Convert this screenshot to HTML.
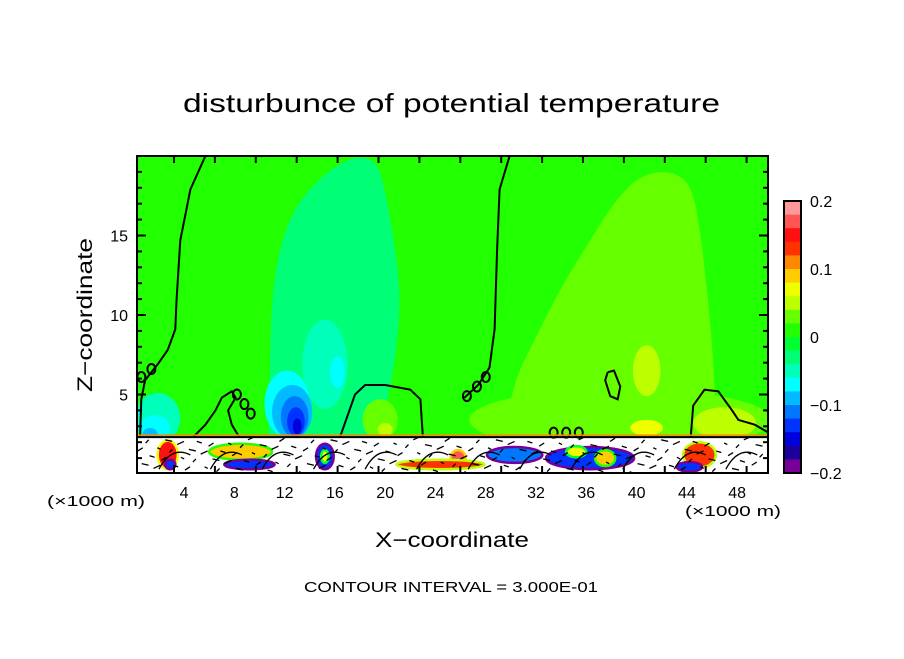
<!DOCTYPE html>
<html><head><meta charset="utf-8"><style>
body{margin:0;background:#fff;width:904px;height:654px;overflow:hidden}
svg text{font-family:"Liberation Sans",sans-serif;fill:#000}
</style></head><body>
<svg id="chart" width="904" height="654" xmlns="http://www.w3.org/2000/svg">
<text x="183" y="112" font-size="26" textLength="537" lengthAdjust="spacingAndGlyphs">disturbunce of potential temperature</text>
<defs><clipPath id="clip"><rect x="137" y="156" width="631" height="317"/></clipPath></defs>
<g id="plot" clip-path="url(#clip)"></g>
<rect x="137" y="156" width="631" height="317" fill="none" stroke="#000" stroke-width="2"/>
<g id="ticks"></g>
<g id="cbar"></g>
<text x="375" y="547" font-size="21" textLength="154" lengthAdjust="spacingAndGlyphs">X−coordinate</text>
<text transform="translate(92,392) rotate(-90)" font-size="21" textLength="154" lengthAdjust="spacingAndGlyphs">Z−coordinate</text>
<text x="47" y="506" font-size="15" textLength="98" lengthAdjust="spacingAndGlyphs">(×1000 m)</text>
<text x="685" y="516" font-size="15" textLength="96" lengthAdjust="spacingAndGlyphs">(×1000 m)</text>
<text x="304" y="592" font-size="15" textLength="294" lengthAdjust="spacingAndGlyphs">CONTOUR INTERVAL = 3.000E-01</text>
</svg>
<script>
const xTicks=[4,8,12,16,20,24,28,32,36,40,44,48];
const yTicks=[5,10,15];
const cbLabels=["0.2","0.1","0","−0.1","−0.2"];
const cbValues=[0.2,0.1,0,-0.1,-0.2];
const levelColors=["#ff9999","#ff5555","#ff1111","#ff3300","#ff8800","#ffcc00","#eeff00","#bbff00","#66ff00","#22ff00","#00ff33","#00ff77","#00ffbb","#00ffff","#00bbff","#0077ff","#0033ff","#0000dd","#1a0099","#770099"];
// plume outlines (x km, z km)
const midPlumeX=[10.7,10.8,11,12.3,14.7,17.2,18.6,19.6,20.6,21.2,21,20.5,19.6];
const midPlumeZ=[2.3,5.9,12,16.2,18.6,19.9,19.9,19.3,15.3,11.6,8.4,5.9,2.3];
const rightPlumeX=[29.5,29.9,32.3,33.9,36.3,38.3,40.3,42.7,44.4,45.1,45.7,46.1,46.4];
const rightPlumeZ=[2.3,5.3,9.1,11.6,14.7,17.2,18.8,19.1,18.2,15.1,10.9,7.2,2.3];
// blobs: center x (km), z (km), radius x, radius z, level index
const blobX=[38.7,15.2,16.2,12.2,12.6,12.8,12.9,13,1.9,1.7,1.3,40.8,40.8,19.6,20,47];
const blobZ=[3.4,6.9,6.4,4.4,3.9,3.6,3.3,3.0,3.5,2.9,2.5,6.5,2.9,3.4,2.8,3.2];
const blobRX=[12,1.8,0.6,1.8,1.6,1.1,0.7,0.35,1.8,1.2,0.6,1.1,1.3,1.4,0.6,2.5];
const blobRZ=[2,2.8,1,2.1,1.7,1.3,0.9,0.5,1.6,0.8,0.4,1.6,0.5,1.3,0.4,1];
const blobLvl=[8,12,13,13,14,15,16,17,12,13,14,7,6,8,7,7];
// lower-layer colour spots
const spotX=[2.7,2.9,8.5,9.2,15.2,15.2,25.8,24.4,30.3,36.3,35.2,37.5,45,44.2];
const spotZ=[1.2,0.6,1.4,0.6,1.1,1.1,1,0.6,1.2,1,1.4,1,1.2,0.45];
const spotRX=[0.8,0.4,2.5,2,0.7,0.3,0.6,3.5,2.2,3.5,0.8,0.8,1.3,1];
const spotRZ=[0.9,0.3,0.5,0.3,0.8,0.4,0.5,0.3,0.5,0.7,0.35,0.5,0.8,0.3];
const spotLvl=[2,16,5,16,16,6,1,3,15,16,6,5,3,16];
// zero contours (x km, z km)
const c1x=[5.7,4.5,3.7,3.4,3.3,2.7,1.9,0.9,0.6,0.5];
const c1z=[20,17.9,14.7,10.9,9.1,7.8,6.9,5.9,4.7,2.3];
const c2x=[29.9,29.1,28.9,28.7,28.3,27.4,26.3];
const c2z=[20,17.9,14.1,9.1,6.7,5.6,4.8];
const c3x=[4.7,5.7,6.5,7,7.8,8.1,7.5,7.8,8.4];
const c3z=[2.3,3.1,4,4.8,5.2,4.8,4,3.1,2.3];
const c4x=[16.4,17.6,18.4,20,22,22.8,23];
const c4z=[2.3,5,5.6,5.6,5.3,4.7,2.3];
const c5x=[37.7,38.2,38.7,38.5,37.9,37.5,37.7];
const c5z=[6.4,6.5,5.5,4.7,4.9,5.9,6.4];
const c6x=[44.3,44.5,45.4,46.5,47.6,48.1,49.4,50.5];
const c6z=[2.3,4.3,5.3,5.2,4.0,3.4,3.1,2.6];
// small closed zero loops (x km, z km)
const loopX=[0.6,1.4,8.2,8.8,9.3,26.5,27.3,28,33.4,34.4,35.4];
const loopZ=[6.1,6.6,5.0,4.4,3.8,4.9,5.5,6.1,2.6,2.6,2.6];
const X0=133.8,XS=12.57,Y0=474,YS=15.9;
const sx=v=>X0+v*XS, sy=v=>Y0-v*YS;
const NS="http://www.w3.org/2000/svg";
const plot=document.getElementById('plot');
function mk(tag,attrs,parent){const e=document.createElementNS(NS,tag);for(const k in attrs)e.setAttribute(k,attrs[k]);parent.appendChild(e);return e;}
let r=mk('rect',{x:137,y:156,width:631,height:317,fill:"#22ff00"},plot);


function smoothPath(xs,zs){
 const p=xs.map((v,i)=>[sx(v),sy(zs[i])]);
 let d='M'+p[0][0]+','+p[0][1];
 for(let i=1;i<p.length-1;i++){const mx=(p[i][0]+p[i+1][0])/2,my=(p[i][1]+p[i+1][1])/2;d+=' Q'+p[i][0]+','+p[i][1]+' '+mx+','+my;}
 d+=' L'+p[p.length-1][0]+','+p[p.length-1][1]+' Z';return d;
}
let mp=mk('path',{d:smoothPath(midPlumeX,midPlumeZ),fill:levelColors[11]},plot);


let rp=mk('path',{d:smoothPath(rightPlumeX,rightPlumeZ),fill:levelColors[8]},plot);


for(let i=0;i<blobX.length;i++){
 const e=mk('ellipse',{cx:sx(blobX[i]),cy:sy(blobZ[i]),rx:blobRX[i]*XS,ry:blobRZ[i]*YS,fill:levelColors[blobLvl[i]]},plot);
 
 
}
let low=mk('rect',{x:137,y:sy(2.35),width:631,height:sy(0)-sy(2.35),fill:"#fff"},plot);


for(let i=0;i<spotX.length;i++){
 const e=mk('ellipse',{cx:sx(spotX[i]),cy:sy(spotZ[i]),rx:spotRX[i]*XS,ry:spotRZ[i]*YS,fill:levelColors[spotLvl[i]],stroke:levelColors[Math.min(19,spotLvl[i]+4)],"stroke-width":2.5},plot);
 
 
}
for(let k=0;k<160;k++){
 const xv=(k*0.3131)%50, zv=0.15+((k*13)%21)/10;
 const L=0.25+(k%3)*0.15;
 mk('line',{x1:sx(xv),y1:sy(zv),x2:sx(xv+L),y2:sy(zv+((k%2)?0.2:-0.1)),stroke:"#000","stroke-width":1.3},plot);
}
for(let k=0;k<12;k++){
 const xv=2+k*4.1;
 mk('path',{d:`M${sx(xv)},${sy(0.3)} Q${sx(xv+1)},${sy(1.8)} ${sx(xv+2.5)},${sy(1.2)}`,fill:"none",stroke:"#000","stroke-width":1.3},plot);
}
function contour(xs,zs,name){
 const d=xs.map((v,i)=>(i?'L':'M')+sx(v).toFixed(1)+','+sy(zs[i]).toFixed(1)).join(' ');
 const p=mk('path',{d:d,fill:"none",stroke:"#000","stroke-width":2},plot);
 
 
}
contour(c1x,c1z,'zero-contour-left');contour(c2x,c2z,'zero-contour-right');
contour(c3x,c3z,'contour-hump-1');contour(c4x,c4z,'contour-hump-2');
contour(c5x,c5z,'contour-loop');contour(c6x,c6z,'contour-hump-3');
for(let i=0;i<loopX.length;i++){
 const e=mk('ellipse',{cx:sx(loopX[i]),cy:sy(loopZ[i]),rx:4,ry:5,fill:"none",stroke:"#000","stroke-width":2},plot);
 
 
}
mk('line',{x1:137,x2:768,y1:sy(2.35)-1.5,y2:sy(2.35)-1.5,stroke:"#ff8800","stroke-width":1.5},plot);
mk('line',{x1:137,x2:768,y1:sy(2.35)+0.5,y2:sy(2.35)+0.5,stroke:"#000","stroke-width":2},plot);
const tk=document.getElementById('ticks');
xTicks.forEach(v=>{
 const t=mk('text',{x:sx(v),y:498,"font-size":16,"text-anchor":"middle"},tk);t.textContent=v;
 
 
});
for(let x=174;x<768;x+=40.9){mk('line',{x1:x,x2:x,y1:156,y2:163,stroke:"#000","stroke-width":2},tk);mk('line',{x1:x,x2:x,y1:473,y2:466,stroke:"#000","stroke-width":2},tk);}
for(let z=1;z<20;z++){const L=z%5?5:9;mk('line',{x1:137,x2:137+L,y1:sy(z),y2:sy(z),stroke:"#000","stroke-width":2},tk);mk('line',{x1:768,x2:768-L,y1:sy(z),y2:sy(z),stroke:"#000","stroke-width":2},tk);}
yTicks.forEach(v=>{
 const t=mk('text',{x:128,y:sy(v)+6,"font-size":16,"text-anchor":"end"},tk);t.textContent=v;
 
 
});
const cb=document.getElementById('cbar');
const CT=201,CH=272,cy=v=>CT+(0.2-v)/0.4*CH;
levelColors.forEach((c,i)=>{
 const e=mk('rect',{x:784,y:CT+i*CH/20,width:17,height:CH/20+0.5,fill:c},cb);
 
 
});
mk('rect',{x:784,y:CT,width:17,height:CH,fill:"none",stroke:"#000","stroke-width":2},cb);
cbValues.forEach((v,i)=>{
 const t=mk('text',{x:810,y:cy(v)+6,"font-size":16},cb);t.textContent=cbLabels[i];
 
 
});
</script>
</body></html>
